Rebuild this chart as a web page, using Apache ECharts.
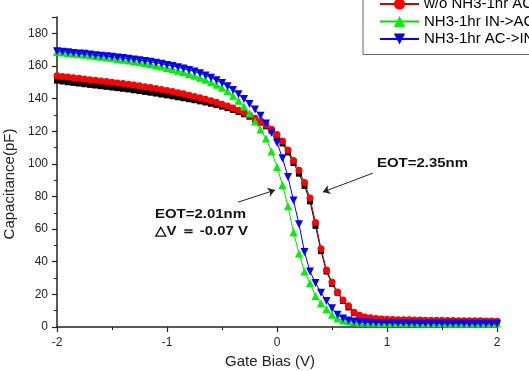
<!DOCTYPE html>
<html>
<head>
<meta charset="utf-8">
<script src="https://cdn.jsdelivr.net/npm/echarts@6/dist/echarts.min.js"></script>
<style>
  html, body { margin: 0; padding: 0; background: #fff; }
  #cv { width: 529px; height: 371px; }
</style>
</head>
<body>
<div id="cv"></div>
<script>
// gate bias sweep (V)
var bias = [
  -2.00, -1.95, -1.90, -1.85, -1.80, -1.75, -1.70, -1.65, -1.60, -1.55,
  -1.50, -1.45, -1.40, -1.35, -1.30, -1.25, -1.20, -1.15, -1.10, -1.05,
  -1.00, -0.95, -0.90, -0.85, -0.80, -0.75, -0.70, -0.65, -0.60, -0.55,
  -0.50, -0.45, -0.40, -0.35, -0.30, -0.25, -0.20, -0.15, -0.10, -0.05,
   0.00,  0.05,  0.10,  0.15,  0.20,  0.25,  0.30,  0.35,  0.40,  0.45,
   0.50,  0.55,  0.60,  0.65,  0.70,  0.75,  0.80,  0.85,  0.90,  0.95,
   1.00,  1.05,  1.10,  1.15,  1.20,  1.25,  1.30,  1.35,  1.40,  1.45,
   1.50,  1.55,  1.60,  1.65,  1.70,  1.75,  1.80,  1.85,  1.90,  1.95,
   2.00
];

// capacitance (pF)
var woInAc = [
  151, 150.5, 150, 149.6, 149.2, 148.8, 148.4, 148, 147.6, 147.2,
  146.8, 146.4, 146, 145.6, 145.1, 144.6, 144.1, 143.6, 143.1, 142.5,
  142, 141.4, 140.8, 140.2, 139.6, 139, 138.3, 137.6, 136.8, 136,
  135.1, 134.1, 133, 131.8, 130.4, 128.9, 127.2, 125.3, 123, 120.4,
  117, 112.5, 107, 100.5, 94, 86.5, 77, 62, 46.5, 34,
  26.5, 21, 16, 12, 8.5, 6.5, 5.5, 5, 4.6, 4.4,
  4.2, 4.1, 4, 4, 3.9, 3.8, 3.8, 3.7, 3.7, 3.6,
  3.6, 3.5, 3.5, 3.4, 3.4, 3.4, 3.3, 3.3, 3.3, 3.2,
  3.2
];
var woAcIn = [
  154, 153.6, 153.2, 152.8, 152.4, 152, 151.6, 151.2, 150.8, 150.4,
  150, 149.6, 149.2, 148.8, 148.3, 147.8, 147.3, 146.8, 146.2, 145.6,
  145, 144.3, 143.6, 142.9, 142.1, 141.3, 140.5, 139.6, 138.7, 137.7,
  136.6, 135.5, 134.2, 132.9, 131.4, 129.8, 128, 126, 123.8, 121.2,
  118, 114, 108.5, 102, 96, 88.5, 79, 64, 48, 35,
  27.5, 21.5, 16.5, 13, 9, 7.2, 6.2, 5.6, 5.2, 4.9,
  4.7, 4.6, 4.5, 4.5, 4.4, 4.3, 4.3, 4.2, 4.2, 4.1,
  4.1, 4, 4, 3.9, 3.9, 3.8, 3.8, 3.8, 3.7, 3.7,
  3.6
];
var nhInAc = [
  168.5, 168.2, 167.9, 167.5, 167.2, 166.8, 166.4, 166, 165.6, 165.2,
  164.8, 164.3, 163.8, 163.3, 162.8, 162.2, 161.6, 161, 160.3, 159.6,
  158.8, 158, 157.1, 156.1, 155.1, 154, 152.8, 151.5, 150, 148.4,
  146.6, 144.6, 141.8, 138.7, 135.2, 131, 126, 121, 115.5, 107.5,
  98, 87, 74, 58, 45, 34, 27, 19, 14.5, 11,
  7.5, 5.2, 4, 3.4, 3, 2.8, 2.7, 2.6, 2.6, 2.5,
  2.5, 2.5, 2.4, 2.4, 2.4, 2.4, 2.3, 2.3, 2.3, 2.3,
  2.3, 2.2, 2.2, 2.2, 2.2, 2.2, 2.2, 2.1, 2.1, 2.1,
  2.1
];
var nhAcIn = [
  169, 168.7, 168.4, 168, 167.7, 167.4, 167, 166.6, 166.3, 166,
  165.6, 165.2, 164.8, 164.4, 164, 163.5, 163, 162.5, 162, 161.3,
  160.6, 160, 159.2, 158.4, 157.5, 156.6, 155.5, 154.2, 152.8, 151.2,
  149.5, 147.5, 145.2, 142.6, 139.8, 136.7, 133.3, 129.5, 124.7, 119,
  113, 103.5, 92, 77.5, 63, 46, 34, 27, 21, 16,
  11.5, 7.5, 5.2, 4, 3.4, 3, 2.8, 2.6, 2.5, 2.4,
  2.4, 2.3, 2.3, 2.3, 2.3, 2.2, 2.2, 2.2, 2.2, 2.2,
  2.1, 2.1, 2.1, 2.1, 2.1, 2, 2, 2, 2, 2,
  2
];

var names = ['w/o NH3-1hr IN->AC', 'w/o NH3-1hr AC->IN', 'NH3-1hr IN->AC', 'NH3-1hr AC->IN'];

function pairs(ys) {
  return bias.map(function (x, i) { return [x, ys[i]]; });
}

var FONT = 'Liberation Sans, Arial, sans-serif';
var AX = '#222';

var myChart = echarts.init(document.getElementById('cv'));

var option = {
  animation: false,
  backgroundColor: '#fff',
  grid: { left: 57, right: 32, top: 17, bottom: 44, outerBoundsMode: 'none', containLabel: false },
  legend: {
    orient: 'vertical',
    left: 363,
    top: -29,
    padding: [8, 5, 8, 16],
    itemWidth: 39,
    itemHeight: 14,
    itemGap: 2.5,
    borderColor: '#666',
    borderWidth: 1,
    textStyle: { fontSize: 15, color: '#000', fontFamily: FONT },
    data: names
  },
  xAxis: {
    type: 'value',
    min: -2, max: 2, interval: 1,
    name: 'Gate Bias (V)',
    nameLocation: 'middle',
    nameGap: 27,
    nameTextStyle: { fontSize: 15, color: '#222', fontFamily: FONT, padding: [0, 14, 0, 0] },
    axisLine: { onZero: false, lineStyle: { color: AX, width: 1.5 } },
    axisTick: { inside: false, length: 5, lineStyle: { color: AX, width: 1.2 } },
    minorTick: { show: true, splitNumber: 2, length: 3, lineStyle: { color: AX, width: 1 } },
    axisLabel: { fontSize: 12, color: '#222', margin: 10, fontFamily: FONT },
    splitLine: { show: false }
  },
  yAxis: {
    type: 'value',
    min: 0, max: 190, interval: 20,
    name: 'Capacitance(pF)',
    nameLocation: 'middle',
    nameGap: 38,
    nameTextStyle: { fontSize: 15, color: '#222', fontFamily: FONT, padding: [0, 24, 0, 0] },
    axisLine: { show: true, onZero: false, lineStyle: { color: AX, width: 1.5 } },
    axisTick: { show: true, length: 5, lineStyle: { color: AX, width: 1.2 } },
    minorTick: { show: true, splitNumber: 2, length: 3, lineStyle: { color: AX, width: 1 } },
    axisLabel: {
      fontSize: 12, color: '#222', margin: 9, fontFamily: FONT,
      formatter: function (v) { return v > 180 ? '' : String(v); }
    },
    splitLine: { show: false }
  },
  series: [
    {
      name: names[0], type: 'line', data: pairs(woInAc),
      symbol: 'rect', symbolSize: 6,
      itemStyle: { color: '#000' }, lineStyle: { color: '#000', width: 1 },
      markLine: {
        silent: true,
        symbol: ['none', 'arrow'],
        symbolSize: 7,
        label: { show: false },
        lineStyle: { color: '#222', width: 1, type: 'solid' },
        emphasis: { disabled: true },
        data: [
          [{ coord: [-0.354, 76.5] }, { coord: [-0.018, 83.9] }],
          [{ coord: [0.871, 94.3] }, { coord: [0.417, 82.7] }]
        ]
      }
    },
    {
      name: names[1], type: 'line', data: pairs(woAcIn),
      symbol: 'circle', symbolSize: 7,
      itemStyle: { color: '#ff0000' }, lineStyle: { color: '#cc0000', width: 1 }
    },
    {
      name: names[2], type: 'line', data: pairs(nhInAc),
      symbol: 'triangle', symbolSize: 8,
      itemStyle: { color: '#00ee00' }, lineStyle: { color: '#00dd00', width: 1 }
    },
    {
      name: names[3], type: 'line', data: pairs(nhAcIn),
      symbol: 'triangle', symbolSize: 8, symbolRotate: 180,
      itemStyle: { color: '#0000ff' }, lineStyle: { color: '#0000ff', width: 1 }
    }
  ],
  graphic: [
    {
      type: 'text', left: 377, top: 157, scaleX: 1.15,
      style: { text: 'EOT=2.35nm', font: 'bold 13px ' + FONT, fill: '#111' }
    },
    {
      type: 'text', left: 155, top: 208, scaleX: 1.15,
      style: { text: 'EOT=2.01nm', font: 'bold 13px ' + FONT, fill: '#111' }
    },
    {
      type: 'text', left: 155, top: 225, scaleX: 1.15,
      style: { text: '△V ＝ -0.07 V', font: 'bold 13px ' + FONT, fill: '#111' }
    }
  ]
};

myChart.setOption(option);
</script>
</body>
</html>
